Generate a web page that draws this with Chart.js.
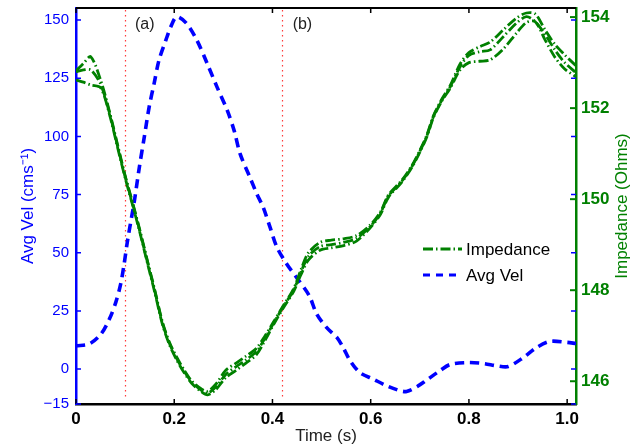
<!DOCTYPE html>
<html>
<head>
<meta charset="utf-8">
<script src="https://cdn.jsdelivr.net/npm/chart.js@4.4.0/dist/chart.umd.min.js"></script>
<style>
  html, body { margin: 0; padding: 0; background: #fff; }
</style>
</head>
<body>
<canvas id="chart" width="643" height="448"></canvas>
<script>
// Avg velocity (left axis, cm/s)
const velTime = [0, 0.027, 0.051, 0.068, 0.081, 0.091, 0.098, 0.105, 0.119, 0.129, 0.139, 0.149, 0.159, 0.169, 0.183, 0.193, 0.205,
  0.225, 0.246, 0.267, 0.287, 0.308, 0.322, 0.334, 0.354, 0.368, 0.381, 0.395, 0.409, 0.429, 0.449, 0.475, 0.49, 0.51, 0.531, 0.544,
  0.558, 0.578, 0.605, 0.633, 0.66, 0.673, 0.694, 0.714, 0.741, 0.762, 0.796, 0.83, 0.857, 0.88, 0.911, 0.938, 0.965, 0.999, 1.018];
const velValues = [10.0, 10.8, 15.1, 21.5, 28.7, 36.6, 45.2, 55.3, 72.5, 86.8, 99.7, 112.7, 122.7, 132.8, 141.4, 147.1, 151.4,
  148.6, 141.4, 131.4, 121.3, 111.2, 102.5, 92.6, 82.5, 75.4, 69.6, 61.0, 52.4, 45.2, 39.4, 31.5, 23.7, 17.9, 13.6, 9.3,
  3.6, -1.5, -4.3, -7.2, -9.3, -9.6, -7.6, -4.7, -0.7, 2.0, 2.8, 2.4, 1.4, 1.1, 5.0, 9.3, 11.9, 11.5, 11.0];

// Impedance traces (right axis, Ohms)
const impTime = [0, 0.015, 0.03, 0.05, 0.068, 0.085, 0.1, 0.115, 0.13, 0.146, 0.16, 0.176, 0.19, 0.204, 0.22, 0.236, 0.254, 0.268,
  0.285, 0.305, 0.326, 0.346, 0.367, 0.385, 0.402, 0.422, 0.443, 0.458, 0.473, 0.497, 0.52, 0.545, 0.571, 0.599, 0.62, 0.636,
  0.663, 0.684, 0.7, 0.714, 0.728, 0.745, 0.762, 0.782, 0.8, 0.822, 0.843, 0.87, 0.897, 0.917, 0.935, 0.955, 0.975, 0.995, 1.018];
const impUpper = [152.82, 152.98, 153.13, 152.62, 151.93, 151.18, 150.52, 149.93, 149.32, 148.62, 148.02, 147.3, 146.86, 146.55, 146.25, 146.0, 145.84, 145.78,
  145.94, 146.24, 146.4, 146.55, 146.72, 147.0, 147.3, 147.66, 148.03, 148.45, 148.82, 149.05, 149.1, 149.13, 149.2, 149.43, 149.72, 150.09,
  150.41, 150.74, 151.07, 151.4, 151.84, 152.2, 152.5, 152.97, 153.22, 153.35, 153.45, 153.72, 153.98, 154.09, 154.07, 153.72, 153.4, 153.17, 152.93];
const impMean = [152.8, 152.84, 152.84, 152.53, 151.9, 151.15, 150.5, 149.91, 149.3, 148.6, 148.0, 147.28, 146.84, 146.52, 146.22, 145.98, 145.81, 145.74,
  145.88, 146.15, 146.32, 146.47, 146.65, 146.95, 147.27, 147.64, 148.0, 148.4, 148.74, 148.96, 149.0, 149.05, 149.14, 149.4, 149.7, 150.07,
  150.39, 150.72, 151.05, 151.38, 151.82, 152.18, 152.47, 152.91, 153.16, 153.24, 153.28, 153.57, 153.87, 154.01, 153.9, 153.62, 153.28, 153.0, 152.78];
const impLower = [152.62, 152.57, 152.51, 152.45, 151.87, 151.12, 150.47, 149.88, 149.27, 148.57, 147.97, 147.25, 146.81, 146.49, 146.19, 145.95, 145.78, 145.7,
  145.82, 146.08, 146.24, 146.4, 146.58, 146.9, 147.24, 147.61, 147.97, 148.34, 148.66, 148.88, 148.93, 148.98, 149.08, 149.37, 149.67, 150.04,
  150.37, 150.7, 151.03, 151.36, 151.8, 152.16, 152.44, 152.84, 153.0, 153.03, 153.06, 153.3, 153.65, 153.88, 153.9, 153.5, 153.12, 152.86, 152.69];

const markerTimes = [0.1, 0.42];
const markerLabels = ['(a)', '(b)'];
const markerLabelTimes = [0.14, 0.461];
const xTicks = [0, 0.2, 0.4, 0.6, 0.8, 1];
const velTicks = [-15, 0, 25, 50, 75, 100, 125, 150];
const impTicks = [146, 148, 150, 152, 154];

const BLUE = '#0000ff';
const GREEN = '#008000';
const FONT = "'Liberation Sans', Arial, Helvetica, sans-serif";

const pts = (xs, ys) => xs.map((x, i) => ({ x: x, y: ys[i] }));

const impStyle = {
  yAxisID: 'y1', borderColor: GREEN, borderWidth: 2.8, borderDash: [10, 3, 1.5, 3],
  pointRadius: 0, tension: 0.3, fill: false
};

// fixed axis boxes so the plot area sits where the original one does
const fixBox = size => s => {
  if (s.isHorizontal()) s.height = size; else s.width = size;
  s.paddingTop = 0; s.paddingBottom = 0; s.paddingLeft = 0; s.paddingRight = 0;
};

// extra drawing: marker lines, inward ticks, top frame, labels, legend
const decor = {
  id: 'decor',
  beforeDatasetsDraw(chart) {
    const { ctx, chartArea: a, scales } = chart;
    ctx.save();
    ctx.strokeStyle = '#ff3b3b';
    ctx.lineWidth = 1.2;
    ctx.setLineDash([1.5, 3.5]);
    markerTimes.forEach(t => {
      const px = Math.round(scales.x.getPixelForValue(t)) + 0.5;
      ctx.beginPath();
      ctx.moveTo(px, a.top + 2);
      ctx.lineTo(px, a.bottom - 5);
      ctx.stroke();
    });
    ctx.restore();
  },
  afterDatasetsDraw(chart) {
    const { ctx, chartArea: a, scales } = chart;
    const tl = 5;
    ctx.save();
    // top frame
    ctx.strokeStyle = '#000';
    ctx.lineWidth = 2;
    ctx.beginPath();
    ctx.moveTo(a.left, a.top);
    ctx.lineTo(a.right, a.top);
    ctx.stroke();
    ctx.lineWidth = 1.5;
    xTicks.forEach(v => {
      const px = scales.x.getPixelForValue(v);
      ctx.beginPath();
      ctx.moveTo(px, a.bottom); ctx.lineTo(px, a.bottom - tl);
      ctx.moveTo(px, a.top); ctx.lineTo(px, a.top + tl);
      ctx.stroke();
    });
    ctx.strokeStyle = BLUE;
    velTicks.forEach(v => {
      const py = scales.y.getPixelForValue(v);
      ctx.beginPath();
      ctx.moveTo(a.left, py); ctx.lineTo(a.left + tl, py);
      ctx.moveTo(a.right, py); ctx.lineTo(a.right - tl, py);
      ctx.stroke();
    });
    ctx.strokeStyle = GREEN;
    ctx.lineWidth = 2;
    impTicks.forEach(v => {
      const py = scales.y1.getPixelForValue(v);
      ctx.beginPath();
      ctx.moveTo(a.right, py); ctx.lineTo(a.right - tl - 1, py);
      ctx.stroke();
    });

    // (a), (b)
    ctx.fillStyle = '#222';
    ctx.font = '16px ' + FONT;
    ctx.textAlign = 'center';
    ctx.textBaseline = 'middle';
    markerLabels.forEach((s, i) => {
      ctx.fillText(s, scales.x.getPixelForValue(markerLabelTimes[i]), a.top + 17);
    });

    // right axis title
    ctx.save();
    ctx.translate(622, (a.top + a.bottom) / 2);
    ctx.rotate(-Math.PI / 2);
    ctx.fillStyle = GREEN;
    ctx.font = '17px ' + FONT;
    ctx.fillText('Impedance (Ohms)', 0, 0);
    ctx.restore();

    // legend
    const items = [
      { label: 'Impedance', color: GREEN, width: 2.8, dash: [10, 3, 1.5, 3], y: 249 },
      { label: 'Avg Vel', color: BLUE, width: 3.2, dash: [7, 6], y: 275 }
    ];
    items.forEach(it => {
      ctx.strokeStyle = it.color;
      ctx.lineWidth = it.width;
      ctx.setLineDash(it.dash);
      ctx.beginPath();
      ctx.moveTo(423, it.y); ctx.lineTo(462, it.y);
      ctx.stroke();
      ctx.setLineDash([]);
      ctx.fillStyle = '#000';
      ctx.font = '17px ' + FONT;
      ctx.textAlign = 'left';
      ctx.fillText(it.label, 466, it.y + 1);
    });
    ctx.restore();
  }
};

new Chart(document.getElementById('chart').getContext('2d'), {
  type: 'line',
  data: {
    datasets: [
      Object.assign({ label: 'Impedance', data: pts(impTime, impUpper) }, impStyle),
      Object.assign({ label: 'Impedance 2', data: pts(impTime, impMean) }, impStyle),
      Object.assign({ label: 'Impedance 3', data: pts(impTime, impLower) }, impStyle),
      {
        label: 'Avg Vel', data: pts(velTime, velValues), yAxisID: 'y',
        borderColor: BLUE, borderWidth: 3.6, borderDash: [9, 6],
        pointRadius: 0, tension: 0.3, fill: false
      }
    ]
  },
  options: {
    responsive: false,
    animation: false,
    devicePixelRatio: 1,
    layout: { padding: { top: 8, left: 0, right: 0, bottom: 0 } },
    plugins: { legend: { display: false }, tooltip: { enabled: false } },
    scales: {
      x: {
        type: 'linear', position: 'bottom', min: 0, max: 1.018,
        afterBuildTicks: s => { s.ticks = xTicks.map(v => ({ value: v })); },
        afterFit: fixBox(44),
        grid: { display: false, drawTicks: false },
        border: { display: true, color: '#000', width: 2.5 },
        ticks: { color: '#000', font: { family: FONT, size: 17, weight: 'bold', lineHeight: 1 }, padding: 7, maxRotation: 0, autoSkip: false },
        title: { display: true, text: 'Time (s)', color: '#222', font: { family: FONT, size: 17, lineHeight: 1.2 }, padding: { top: 0, bottom: 1 } }
      },
      y: {
        type: 'linear', position: 'left', min: -15, max: 155.2,
        afterBuildTicks: s => { s.ticks = velTicks.map(v => ({ value: v })); },
        afterFit: fixBox(76),
        grid: { display: false, drawTicks: false },
        border: { display: true, color: BLUE, width: 2.5 },
        ticks: {
          color: BLUE, font: { family: FONT, size: 15, lineHeight: 1 }, padding: 7,
          callback: v => String(v).replace('-', '\u2212')
        },
        title: { display: true, text: 'Avg Vel (cms\u207B\u00B9)', color: BLUE, font: { family: FONT, size: 17, lineHeight: 1.2 }, padding: { top: 18, bottom: 0 } }
      },
      y1: {
        type: 'linear', position: 'right', min: 145.5, max: 154.2,
        afterBuildTicks: s => { s.ticks = impTicks.map(v => ({ value: v })); },
        afterFit: fixBox(67),
        grid: { display: false, drawTicks: false },
        border: { display: true, color: GREEN, width: 2.5 },
        ticks: { color: GREEN, font: { family: FONT, size: 17, weight: 'bold', lineHeight: 1 }, padding: 5 }
      }
    }
  },
  plugins: [decor]
});
</script>
</body>
</html>
